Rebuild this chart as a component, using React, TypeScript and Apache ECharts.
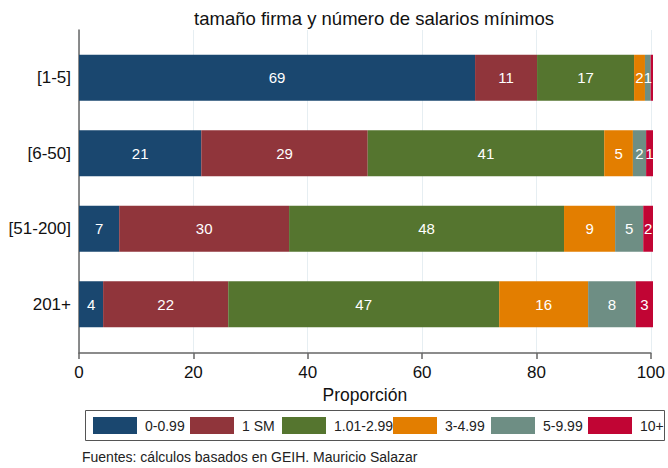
import React, { useEffect, useRef } from "react";
import * as echarts from "echarts";

const categories = ["[1-5]", "[6-50]", "[51-200]", "201+"];
const seriesNames = ["0-0.99", "1 SM", "1.01-2.99", "3-4.99", "5-9.99", "10+"];
const s0to099 = [69.0, 21.3, 7.0, 4.2];
const s1SM = [10.8, 29.0, 29.6, 21.8];
const s101to299 = [16.9, 41.2, 47.9, 47.2];
const s3to499 = [1.9, 5.0, 8.9, 15.5];
const s5to999 = [1.0, 2.3, 4.9, 8.3];
const s10plus = [0.4, 1.2, 1.7, 3.0];
const seriesValues = [s0to099, s1SM, s101to299, s3to499, s5to999, s10plus];
const xTicks = [0, 20, 40, 60, 80, 100];
const colors = ["#1a476f", "#90353b", "#55752f", "#e37e00", "#6e8e84", "#c10534"];
const titleText = "tamaño firma y número de salarios mínimos";
const xName = "Proporción";
const sourceText = "Fuentes: cálculos basados en GEIH. Mauricio Salazar";

const FONT = "'Liberation Sans', Arial, sans-serif";

export default function App() {
  const ref = useRef<HTMLDivElement>(null);
  useEffect(() => {
    if (!ref.current) return;
    const chart = echarts.init(ref.current, null, { renderer: "svg" });
    const swatchX = [93, 190, 282, 393, 491, 588];
    const legendGraphics: any[] = [
      {
        type: "rect",
        shape: { x: 85.5, y: 410.5, width: 579, height: 30 },
        style: { fill: "#fff", stroke: "#555", lineWidth: 1 },
      },
    ];
    seriesNames.forEach((n, i) => {
      legendGraphics.push({
        type: "rect",
        shape: { x: swatchX[i], y: 417, width: 44, height: 17 },
        style: { fill: colors[i] },
      });
      legendGraphics.push({
        type: "text",
        x: swatchX[i] + 52,
        y: 426,
        style: {
          text: n,
          fontSize: 14,
          fontFamily: FONT,
          fill: "#222",
          textVerticalAlign: "middle",
        },
      });
    });
    const option: any = {
      animation: false,
      textStyle: { fontFamily: FONT },
      grid: [
        { left: 79, right: 15, top: 30, bottom: 115 },
        { left: 79, right: 15, top: 40, height: 302 },
      ],
      xAxis: [
        {
          gridIndex: 0,
          type: "value",
          min: 0,
          max: 100,
          interval: 20,
          name: xName,
          nameLocation: "middle",
          nameGap: 29,
          nameTextStyle: { fontSize: 17.5, color: "#111", fontFamily: FONT },
          axisLine: { show: true, lineStyle: { color: "#666", width: 1.5 } },
          axisTick: { show: true, length: 6, lineStyle: { color: "#666", width: 1.5 } },
          axisLabel: {
            fontSize: 17,
            color: "#111",
            margin: 11,
            fontFamily: FONT,
            formatter: (v: number) => (xTicks.includes(v) ? String(v) : ""),
          },
          splitLine: { show: true, lineStyle: { color: "#e6eef2", width: 1 } },
        },
        {
          gridIndex: 1,
          type: "value",
          min: 0,
          max: 100,
          show: false,
        },
      ],
      yAxis: [
        {
          gridIndex: 0,
          type: "value",
          min: 0,
          max: 1,
          axisLine: { show: true, lineStyle: { color: "#666", width: 1.5 } },
          axisTick: { show: false },
          axisLabel: { show: false },
          splitLine: { show: false },
        },
        {
          gridIndex: 1,
          type: "category",
          data: categories,
          inverse: true,
          axisLine: { show: false },
          axisTick: { show: false },
          splitLine: { show: false },
          axisLabel: { fontSize: 17, color: "#111", margin: 8, fontFamily: FONT },
        },
      ],
      series: seriesNames.map((name, i) => ({
        name,
        type: "bar",
        stack: "total",
        xAxisIndex: 1,
        yAxisIndex: 1,
        barWidth: 46,
        data: seriesValues[i],
        itemStyle: { color: colors[i] },
        label: {
          show: true,
          position: "inside",
          color: "#fff",
          fontSize: 15,
          fontFamily: FONT,
          formatter: (p: any) => {
            const r = Math.round(p.value);
            return r >= 1 ? String(r) : "";
          },
        },
      })),
      graphic: [
        {
          type: "text",
          x: 374,
          y: 18,
          style: {
            text: titleText,
            fontSize: 18.5,
            fontFamily: FONT,
            fill: "#111",
            textAlign: "center",
            textVerticalAlign: "middle",
          },
        },
        ...legendGraphics,
        {
          type: "text",
          x: 82,
          y: 457,
          style: {
            text: sourceText,
            fontSize: 14,
            fontFamily: FONT,
            fill: "#222",
            textVerticalAlign: "middle",
          },
        },
      ],
    };
    chart.setOption(option);
    return () => chart.dispose();
  }, []);
  return (
    <div
      ref={ref}
      style={{ position: "fixed", left: 0, top: 0, width: 668, height: 468, background: "#fff" }}
    />
  );
}
